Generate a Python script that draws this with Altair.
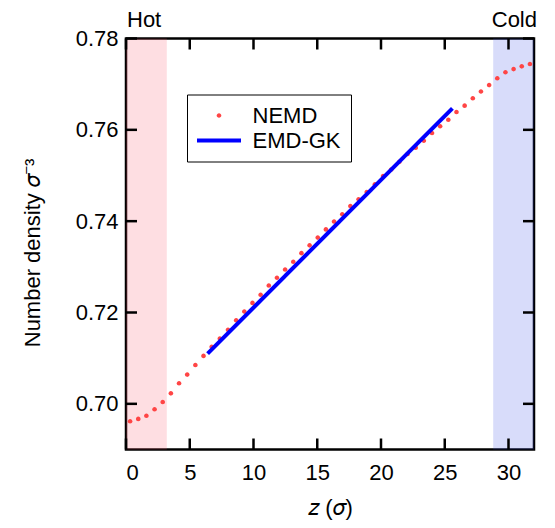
import altair as alt
import pandas as pd

W, H = 408, 411

# NEMD density profile (bin centres, sigma units)
z_nemd = [0.32, 0.96, 1.60, 2.24, 2.88, 3.52, 4.16, 4.80, 5.44, 6.08,
          6.72, 7.36, 8.00, 8.64, 9.28, 9.92, 10.56, 11.20, 11.84, 12.48,
          13.12, 13.76, 14.40, 15.04, 15.68, 16.32, 16.96, 17.60, 18.24, 18.88,
          19.52, 20.16, 20.80, 21.44, 22.08, 22.72, 23.36, 24.00, 24.64, 25.28,
          25.92, 26.56, 27.20, 27.84, 28.48, 29.12, 29.76, 30.40, 31.04, 31.68]
rho_nemd = [0.6962, 0.6967, 0.6974, 0.6988, 0.7004, 0.7023, 0.7045, 0.7064, 0.7085, 0.7105,
            0.7125, 0.7143, 0.7162, 0.7183, 0.7202, 0.7221, 0.7239, 0.7259, 0.7276, 0.7294,
            0.7311, 0.7330, 0.7347, 0.7364, 0.7382, 0.7399, 0.7415, 0.7433, 0.7448, 0.7464,
            0.7481, 0.7499, 0.7513, 0.7530, 0.7547, 0.7561, 0.7576, 0.7593, 0.7608, 0.7622,
            0.7639, 0.7653, 0.7669, 0.7684, 0.7698, 0.7713, 0.7726, 0.7733, 0.7739, 0.7744]

# EMD-GK line
z_gk = [6.4, 25.6]
rho_gk = [0.7110, 0.7647]

# thermostat regions
region_names = ["Hot", "Cold"]
region_start = [0.0, 28.8]
region_end = [3.2, 32.0]
region_colors = ["#fc5c6c", "#3c50e6"]

series = ["NEMD", "EMD-GK"]
series_colors = ["#ff4545", "#0000ff"]

x_ticks = [0, 5, 10, 15, 20, 25, 30]
y_ticks = [0.70, 0.72, 0.74, 0.76, 0.78]

FONT = "Liberation Sans"

df_nemd = pd.DataFrame({"z": z_nemd, "rho": rho_nemd, "series": "NEMD"})
df_gk = pd.DataFrame({"z": z_gk, "rho": rho_gk})
df_reg = pd.DataFrame({"name": region_names, "z0": region_start, "z1": region_end, "col": region_colors})
df_xt = pd.DataFrame({"z": x_ticks})
df_yt = pd.DataFrame({"rho": y_ticks})

xscale = alt.Scale(domain=[0, 32], nice=False, zero=False)
yscale = alt.Scale(domain=[0.69, 0.78], nice=False, zero=False)

xaxis = alt.Axis(values=x_ticks, title="𝑧 (𝜎)", ticks=False, tickSize=0, domain=False, grid=False,
                 labelPadding=13, titlePadding=14)
yaxis = alt.Axis(values=y_ticks, format=".2f", title="Number density 𝜎⁻³", ticks=False, tickSize=0,
                 domain=False, grid=False, labelPadding=8, titlePadding=31, titleY=214)

SYM = 400  # symbol size -> path unit = sqrt(SYM)/2 = 10 px
circle_path = "M-0.23,0A0.23,0.23 0 1,0 0.23,0A0.23,0.23 0 1,0 -0.23,0Z"
bar_path = "M-2.2,-0.2H2.2V0.2H-2.2Z"

legend = alt.Legend(title=None, orient="none", legendX=61, legendY=56, strokeColor="black",
                    fillColor="white", padding=10, labelFont=FONT, labelFontSize=22,
                    labelColor="black", labelOffset=22.5, symbolOffset=11, symbolSize=SYM,
                    rowPadding=3, symbolStrokeWidth=0)

regions = alt.Chart(df_reg).mark_rect(opacity=0.2).encode(
    x=alt.X("z0:Q", scale=xscale, axis=xaxis),
    x2="z1:Q",
    y=alt.value(0),
    y2=alt.value(H),
    fill=alt.Fill("col:N", scale=None),
)

points = alt.Chart(df_nemd).mark_point(filled=True, size=SYM, opacity=1, strokeWidth=0).encode(
    x=alt.X("z:Q", scale=xscale, axis=xaxis),
    y=alt.Y("rho:Q", scale=yscale, axis=yaxis),
    color=alt.Color("series:N", scale=alt.Scale(domain=series, range=series_colors), legend=legend),
    shape=alt.Shape("series:N", scale=alt.Scale(domain=series, range=[circle_path, bar_path]), legend=legend),
)

line = alt.Chart(df_gk).mark_line(color="#0000ff", strokeWidth=4, strokeCap="butt").encode(
    x=alt.X("z:Q", scale=xscale, axis=xaxis),
    y=alt.Y("rho:Q", scale=yscale, axis=yaxis),
)

tick_style = dict(color="black", strokeWidth=2.5)
xt_bottom = alt.Chart(df_xt).mark_rule(**tick_style).encode(
    x=alt.X("z:Q", scale=xscale, axis=xaxis), y=alt.value(H), y2=alt.value(H - 11))
xt_top = alt.Chart(df_xt).mark_rule(**tick_style).encode(
    x=alt.X("z:Q", scale=xscale, axis=xaxis), y=alt.value(0), y2=alt.value(11))
yt_left = alt.Chart(df_yt).mark_rule(**tick_style).encode(
    y=alt.Y("rho:Q", scale=yscale, axis=yaxis), x=alt.value(0), x2=alt.value(11))
yt_right = alt.Chart(df_yt).mark_rule(**tick_style).encode(
    y=alt.Y("rho:Q", scale=yscale, axis=yaxis), x=alt.value(W), x2=alt.value(W - 11))

hot_lbl = alt.Chart(df_reg[df_reg.name == "Hot"]).mark_text(
    align="left", baseline="alphabetic", dx=1, font=FONT, fontSize=22, color="black").encode(
    x=alt.X("z0:Q", scale=xscale, axis=xaxis), y=alt.value(-12), text="name:N")
cold_lbl = alt.Chart(df_reg[df_reg.name == "Cold"]).mark_text(
    align="right", baseline="alphabetic", dx=3, font=FONT, fontSize=22, color="black").encode(
    x=alt.X("z1:Q", scale=xscale, axis=xaxis), y=alt.value(-12), text="name:N")

chart = alt.layer(
    regions, points, line, xt_bottom, xt_top, yt_left, yt_right, hot_lbl, cold_lbl
).properties(
    width=W, height=H,
    autosize=alt.AutoSizeParams(type="none"),
    padding={"left": 118, "top": 30.5, "right": 8, "bottom": 70},
).configure_view(
    stroke="black", strokeWidth=2.5
).configure_axis(
    labelFont=FONT, labelFontSize=22, labelColor="black",
    titleFont=FONT, titleFontSize=22, titleFontWeight="normal", titleColor="black",
)

chart.save("out.html", embed_options={"renderer": "svg", "actions": False})
